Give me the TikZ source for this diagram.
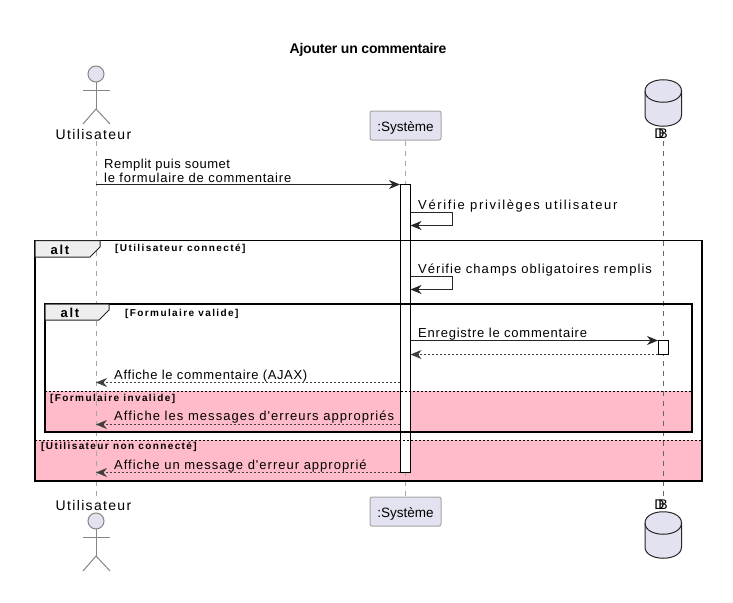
\documentclass[tikz,border=0pt]{standalone}
\usepackage{fontspec}
\setmainfont{Liberation Sans}
\newfontfamily\msgfamily{Liberation Sans}
\usetikzlibrary{arrows.meta}

\definecolor{lavend}{HTML}{E2E2F0}
\definecolor{linegray}{HTML}{A6A6A6}
\definecolor{altpink}{HTML}{FFBBC9}
\definecolor{tabgray}{HTML}{EEEEEE}

\tikzset{
    msg/.style={draw=black!85, line width=1pt, -{Stealth[length=11pt,width=9pt,inset=3.5pt]}},
    reply/.style={draw=black!75, line width=0.8pt, dash pattern=on 2pt off 2pt, -{Stealth[length=11pt,width=9pt,inset=3.5pt]}},
    lifeline/.style={draw=linegray, line width=1pt, dash pattern=on 5pt off 5pt},
    thinlife/.style={draw=black!60, line width=0.6pt, dash pattern=on 5pt off 5pt},
    frameline/.style={draw=black, line width=1.5pt},
    partbox/.style={draw=linegray, line width=1pt, fill=lavend, rounded corners=2pt, minimum width=71pt, minimum height=29pt, inner sep=0pt, text height=12pt, text depth=0pt, font=\fontsize{13.5}{14}\selectfont},
    actbar/.style={draw=black, line width=1pt, fill=white, minimum width=10.5pt, inner sep=0pt},
    msglabel/.style={anchor=west, inner sep=0pt, yshift=-2pt, align=left, font=\msgfamily\fontsize{13}{14}\selectfont\addfontfeature{LetterSpace=#1}},
    msglabel/.default=0,
    namelabel/.style={inner sep=0pt, font=\fontsize{14}{14}\selectfont\addfontfeature{LetterSpace=9.5}},
    dblabel/.style={inner sep=0pt, font=\fontsize{14}{14}\selectfont},
    condlabel/.style={anchor=west, inner sep=0pt, yshift=-1pt, font=\fontsize{10}{10}\selectfont\bfseries\addfontfeature{LetterSpace=14}},
    altlabel/.style={inner sep=0pt, font=\fontsize{13}{14}\selectfont\bfseries\addfontfeature{LetterSpace=13}}
}

\begin{document}
\begin{tikzpicture}[x=1pt, y=-1pt]
    \useasboundingbox (0,0) rectangle (733,602);

    % else parts
    \fill[altpink] (45,391) rectangle (692,432);
    \fill[altpink] (35,440) rectangle (702,481);

    % participants
    \node[partbox] (systop) at (405.5,125.5) {:Système};
    \node[partbox] (sysbot) at (405.5,511.5) {:Système};
    \node[namelabel] (usertoplabel) at (93.5,134) {Utilisateur};
    \node[namelabel] (userbotlabel) at (93.5,505) {Utilisateur};
    \node[dblabel] (dbtoplabel) at (661,134) {D\kern-6pt B};
    \node[dblabel] (dbbotlabel) at (661,505) {D\kern-6pt B};

    % lifelines
    \coordinate (usertop) at (96,141);
    \coordinate (userbot) at (96,496);
    \coordinate (dbtop) at (663,141);
    \coordinate (dbbot) at (663,498);
    \draw[lifeline] (usertop) -- (userbot);
    \draw[lifeline] (systop.south) -- (sysbot.north);
    \draw[thinlife] (dbtop) -- (dbbot);

    % actors
    \foreach \yy in {74,521} {
        \draw[linegray!80!black, line width=1pt, fill=lavend] (96,\yy) circle (8);
        \draw[linegray!80!black, line width=1pt] (96,\yy+8) -- (96,\yy+35);
        \draw[linegray!80!black, line width=1pt] (83,\yy+16) -- (110,\yy+16);
        \draw[linegray!80!black, line width=1pt] (83,\yy+50) -- (96,\yy+35) -- (110,\yy+50);
    }

    % databases
    \foreach \yy in {80,512} {
        \draw[black!85, line width=1pt, fill=lavend] (645,\yy+11)
            .. controls (645,\yy-4) and (681.5,\yy-4) .. (681.5,\yy+11)
            -- (681.5,\yy+35)
            .. controls (681.5,\yy+50) and (645,\yy+50) .. (645,\yy+35) -- cycle;
        \draw[black!85, line width=1pt] (645,\yy+11) .. controls (645,\yy+26) and (681.5,\yy+26) .. (681.5,\yy+11);
    }

    % activations
    \node[actbar, minimum height=288pt] (sysact) at (405.25,328.5) {};
    \node[actbar, minimum height=13.5pt] (dbact) at (663.25,347.25) {};

    % frames
    \draw[frameline] (35,240.5) rectangle (702,481);
    \draw[frameline] (45,304) rectangle (692,432);
    \draw[line width=1pt, draw=black!85, fill=tabgray] (35,240.5) -- (100,240.5) -- (100,247) -- (90,257) -- (35,257) -- cycle;
    \draw[line width=1pt, draw=black!85, fill=tabgray] (45,304) -- (109,304) -- (109,310) -- (99,320) -- (45,320) -- cycle;
    \draw[line width=1pt, dash pattern=on 2pt off 2pt] (45,391) -- (692,391);
    \draw[line width=1pt, dash pattern=on 2pt off 2pt] (35,440) -- (702,440);

    % message ends
    \coordinate (userA) at (96,184.5);
    \coordinate (sysA) at (400,184.5);
    \coordinate (sysB) at (410.5,212.5);
    \coordinate (sysC) at (410.5,225.5);
    \coordinate (sysD) at (410.5,276.5);
    \coordinate (sysE) at (410.5,289.5);
    \coordinate (sysF) at (410.5,340.5);
    \coordinate (dbF) at (658,340.5);
    \coordinate (sysG) at (410.5,354.5);
    \coordinate (dbG) at (658,354.5);
    \coordinate (sysH) at (400,382.5);
    \coordinate (userH) at (96,382.5);
    \coordinate (sysI) at (400,424.5);
    \coordinate (userI) at (96,424.5);
    \coordinate (sysJ) at (400,472.5);
    \coordinate (userJ) at (96,472.5);

    \draw[msg] (userA) -- (sysA);
    \draw[msg] (sysB) -- ++(42,0) |- (sysC);
    \draw[msg] (sysD) -- ++(42,0) |- (sysE);
    \draw[msg] (sysF) -- (dbF);
    \draw[reply] (dbG) -- (sysG);
    \draw[reply] (sysH) -- (userH);
    \draw[reply] (sysI) -- (userI);
    \draw[reply] (sysJ) -- (userJ);

    % texts
    \node[font=\fontsize{14}{14}\selectfont\bfseries\addfontfeature{LetterSpace=-1.6}] (title) at (368,49.5) {Ajouter un commentaire};
    \node[msglabel] (remplit) at (104,169) {{\addfontfeature{LetterSpace=3.9}Remplit puis soumet}\\{\addfontfeature{LetterSpace=6}le formulaire de commentaire}};
    \node[msglabel=12.7] (privileges) at (418,204) {Vérifie privilèges utilisateur};
    \node[msglabel=8] (champs) at (418,268) {Vérifie champs obligatoires remplis};
    \node[msglabel=6] (enregistre) at (418,332) {Enregistre le commentaire};
    \node[msglabel=5] (ajax) at (114,374) {Affiche le commentaire (AJAX)};
    \node[msglabel=8.1] (erreurs) at (114,415) {Affiche les messages d'erreurs appropriés};
    \node[msglabel=7.7] (erreur) at (114,464) {Affiche un message d'erreur approprié};
    \node[altlabel] (outeralt) at (60,250) {alt};
    \node[altlabel] (inneralt) at (70,313) {alt};
    \node[condlabel] (connecte) at (115,248) {[Utilisateur connecté]};
    \node[condlabel] (valide) at (125,313) {[Formulaire valide]};
    \node[condlabel] (invalide) at (50,398) {[Formulaire invalide]};
    \node[condlabel] (nonconnecte) at (41,446) {[Utilisateur non connecté]};
\end{tikzpicture}
\end{document}
